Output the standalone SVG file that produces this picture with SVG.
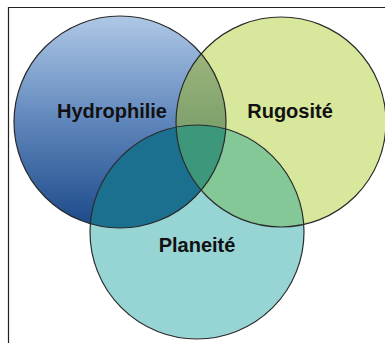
<svg xmlns="http://www.w3.org/2000/svg" width="385" height="343" viewBox="0 0 385 343">
<style>
.ol{fill:none;stroke:#2a2a2a;stroke-width:1.2}
.lbl{font-family:"Liberation Sans",Arial,sans-serif;font-weight:bold;font-size:20px;fill:#111;text-anchor:middle}
</style>
<defs>
<linearGradient id="gb" x1="0" y1="16" x2="0" y2="228" gradientUnits="userSpaceOnUse">
<stop offset="0" stop-color="#aec8e6"/>
<stop offset="0.5" stop-color="#5f86bb"/>
<stop offset="1" stop-color="#1a4888"/>
</linearGradient>
<linearGradient id="gbg" x1="0" y1="30" x2="0" y2="130" gradientUnits="userSpaceOnUse">
<stop offset="0" stop-color="#a3bb80"/>
<stop offset="1" stop-color="#7ea06c"/>
</linearGradient>
<clipPath id="cB"><circle cx="120" cy="122" r="106"/></clipPath>
<clipPath id="cG"><circle cx="281" cy="122" r="105"/></clipPath>
<clipPath id="cT"><circle cx="197" cy="232" r="107"/></clipPath>
</defs>
<rect x="0" y="0" width="385" height="343" fill="#fff"/>
<path d="M8.5 343 V7.5 H385" fill="none" stroke="#222" stroke-width="1.2"/>
<g id="hydrophilie">
<circle cx="120" cy="122" r="106" fill="url(#gb)"/>
</g>
<g id="rugosite">
<circle cx="281" cy="122" r="105" fill="#d7e79b"/>
</g>
<g id="planeite">
<circle cx="197" cy="232" r="107" fill="#97d5d5"/>
</g>
<g id="intersections">
<g clip-path="url(#cB)"><circle cx="281" cy="122" r="105" fill="url(#gbg)"/></g>
<g clip-path="url(#cB)"><circle cx="197" cy="232" r="107" fill="#1b6f8f"/></g>
<g clip-path="url(#cG)"><circle cx="197" cy="232" r="107" fill="#84c898"/></g>
<g clip-path="url(#cB)"><g clip-path="url(#cG)"><circle cx="197" cy="232" r="107" fill="#3c977b"/></g></g>
</g>
<g id="outlines">
<circle class="ol" cx="120" cy="122" r="106"/>
<circle class="ol" cx="281" cy="122" r="105"/>
<circle class="ol" cx="197" cy="232" r="107"/>
</g>
<text class="lbl" x="112" y="118">Hydrophilie</text>
<text class="lbl" x="290" y="118">Rugosité</text>
<text class="lbl" x="197" y="252">Planeité</text>
</svg>
